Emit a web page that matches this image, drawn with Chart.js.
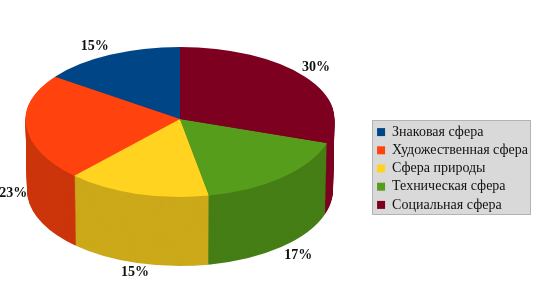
<!DOCTYPE html>
<html><head><meta charset="utf-8">
<style>html,body{margin:0;padding:0;background:#fff}#w{width:549px;height:302px}</style>
<script src="https://cdn.jsdelivr.net/npm/chart.js@4"></script></head>
<body><div id="w"><canvas id="c" width="549" height="302"></canvas></div>
<script>
const categories = ["Знаковая сфера","Художественная сфера","Сфера природы","Техническая сфера","Социальная сфера"];
const values = [15,23,15,17,30];
const topColors = ["#004586","#ff420e","#ffd320","#579d1c","#7e0021"];
const wallColors = ["#00386b","#cc350b","#cca91a","#467e16","#7e0021"];

const view = {cx:180, cy:119, rx:154.5, ryUp:72, ryDown:78, depth:71, rxBottom:153, ryDownBottom:76};
const labelNudge = [[-15,-8],[-13,-4],[-2,7],[16,6.5],[11,-9]];
const FONT = "'Liberation Serif', serif";

const pie3d = {
  id:'pie3d',
  beforeDraw(chart){
    const hb = chart.legend.legendHitBoxes, c = chart.ctx;
    const first = hb[0], last = hb[hb.length-1];
    const w = Math.max(...hb.map(h=>h.width));
    const L = Math.round(first.left)-5, T = Math.round(first.top)-5;
    const W = Math.round(w)+7, H = Math.round(last.top+last.height-first.top)+7;
    c.save();
    c.fillStyle = '#d9d9d9'; c.strokeStyle = '#b3b3b3'; c.lineWidth = 1;
    c.fillRect(L+.5,T+.5,W,H);
    c.strokeRect(L+.5,T+.5,W,H);
    c.restore();
  },
  beforeDatasetsDraw(chart){
    const c = chart.ctx, arcs = chart.getDatasetMeta(0).data;
    const R = arcs[0].outerRadius, ox = arcs[0].x, oy = arcs[0].y;
    const half = (t, colors, ry, clipY, clipH) => {
      c.save();
      c.beginPath(); c.rect(0,clipY,chart.width,clipH); c.clip();
      c.translate(view.cx, view.cy + t*view.depth);
      c.scale(-(view.rx + t*(view.rxBottom-view.rx))/R, ry/R);
      c.translate(-ox,-oy);
      arcs.forEach((a,i)=>{
        const p = Object.create(a);
        p.options = Object.assign({}, a.options, {backgroundColor:colors[i], borderWidth:0});
        p.draw(c);
      });
      c.restore();
    };
    const layer = (t, colors) => {
      const y = view.cy + Math.round(t*view.depth);
      half(t, colors, view.ryUp, 0, y);
      half(t, colors, view.ryDown + t*(view.ryDownBottom-view.ryDown), y, chart.height-y);
    };
    for(let s=view.depth;s>0;s--) layer(s/view.depth, wallColors);
    layer(0, topColors);
    // value labels
    c.save();
    c.font = "bold 14px "+FONT; c.fillStyle='#111'; c.textAlign='center'; c.textBaseline='middle';
    let acc=0; const sum = values.reduce((a,b)=>a+b,0);
    values.forEach((v,i)=>{
      const mid = (acc+v/2)/sum*2*Math.PI; acc+=v;
      const dx=-Math.sin(mid), dy=-Math.cos(mid);
      const x = view.cx + dx*view.rx + labelNudge[i][0];
      let y = view.cy + dy*(dy>0?view.ryDown:view.ryUp) + labelNudge[i][1];
      if(dy>0) y += view.depth;
      c.fillText(v+'%', x, y);
    });
    c.restore();
    return false;
  }
};

new Chart(document.getElementById('c'),{
  type:'pie',
  data:{labels:categories,datasets:[{data:values,backgroundColor:topColors,borderWidth:0}]},
  options:{
    responsive:false,animation:false,
    layout:{padding:{top:35,right:11,left:0,bottom:0}},
    plugins:{
      tooltip:{enabled:false},
      legend:{position:'right',labels:{color:'#111',font:{family:FONT,size:14},boxWidth:8,boxHeight:8,padding:4.2}}
    }
  },
  plugins:[pie3d]
});
</script></body></html>
